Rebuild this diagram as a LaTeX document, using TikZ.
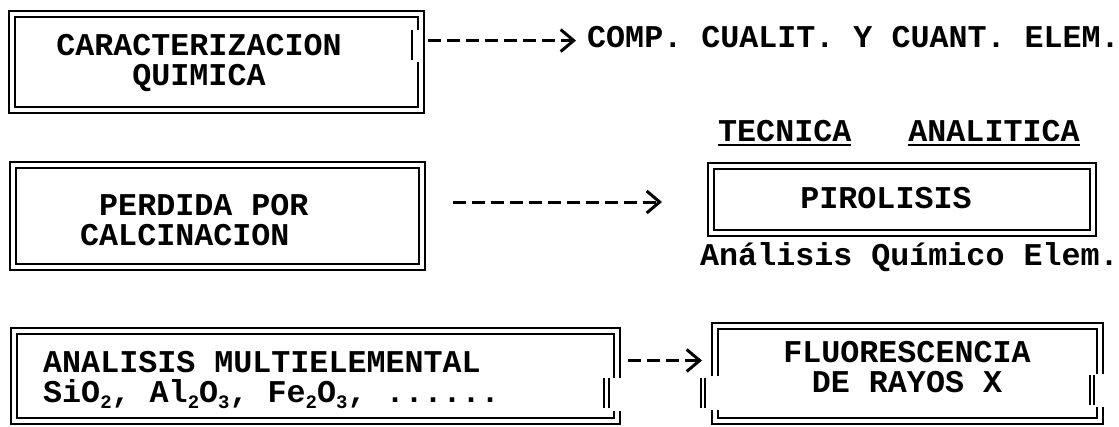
\documentclass[tikz,border=0pt]{standalone}
\usepackage{fontspec}
\setmonofont{Liberation Mono}
\usetikzlibrary{arrows.meta,positioning}

\newcommand{\subidx}[1]{\raisebox{-0.22em}{\fontsize{19}{19}\selectfont #1}}
\newcommand{\ulword}[1]{\setbox0\hbox{#1}\rlap{\rule[-5pt]{\wd0}{2pt}}\box0}

\begin{document}
\begin{tikzpicture}[x=1pt, y=-1pt,
  dbox/.style={rectangle, draw, double, line width=2pt, double distance=4pt,
               inner sep=0pt, outer sep=0pt},
  tw/.style={font=\ttfamily\bfseries\fontsize{31.7}{30}\selectfont, inner sep=0pt},
  darr/.style={-{Straight Barb[length=13pt,width=22pt]}, line width=3pt,
               dash pattern=on 13pt off 6pt},
  tbar/.style={line width=2pt}
]
\useasboundingbox (0,0) rectangle (1119,426);

% Boxes
\node[dbox, minimum width=409, minimum height=96]  (car) at (216.5,62)  {};
\node[dbox, minimum width=409, minimum height=102] (per) at (217.5,216) {};
\node[dbox, minimum width=382, minimum height=67]  (pir) at (902,199.5) {};
\node[dbox, minimum width=603, minimum height=90]  (ana) at (315,375.5) {};
\node[dbox, minimum width=385, minimum height=95]  (flu) at (907,373)   {};

% typewriter breaks in the frames
\fill[white] (415.5,30) rectangle (419.5,62);
\draw[tbar] (412,30) -- (412,60);
\fill[white] (611,378) rectangle (622,411);
\draw[tbar] (603.5,378) -- (603.5,408) (608.5,378) -- (608.5,408);
\fill[white] (709,376) rectangle (720,410);
\draw[tbar] (700.5,378) -- (700.5,408) (705,378) -- (705,408);
\fill[white] (1094,374) rectangle (1104,407);
\draw[tbar] (1089.5,375) -- (1089.5,405) (1094,375) -- (1094,405);

% Texts
\node[tw, anchor=base, align=center] (cartxt) at (199,85) {CARACTERIZACION\\QUIMICA};
\node[tw, anchor=base west] (comp) at (587,47) {COMP. CUALIT. Y CUANT. ELEM.};
\node[tw, anchor=base west] (tec) at (718,141) {\ulword{TECNICA}~~~\ulword{ANALITICA}};
\node[tw, anchor=base west, align=left] (pertxt) at (80,245) {~PERDIDA POR\\CALCINACION};
\node[tw, anchor=base] (pirtxt) at (886,208) {PIROLISIS};
\node[tw, anchor=base west] (quim) at (700,265) {Análisis Químico Elem.};
\node[tw, anchor=base west, align=left] (anatxt) at (43,402)
  {ANALISIS MULTIELEMENTAL\\SiO\subidx{2}, Al\subidx{2}O\subidx{3}, Fe\subidx{2}O\subidx{3}, ......};
\node[tw, anchor=base, align=center] (flutxt) at (907,392) {FLUORESCENCIA\\DE RAYOS X};

% Arrows
\draw[darr, shorten <=7pt, shorten >=11pt] ([yshift=-4pt]car.east |- comp.west) -- ([yshift=-4pt]comp.west);
\draw[darr, shorten <=31pt, shorten >=49pt] ([yshift=-2.5pt]per.east |- pir.west) -- ([yshift=-2.5pt]pir.west);
\draw[darr, shorten <=11.5pt, shorten >=12.5pt] ([yshift=15pt]ana.east) -- ([yshift=15pt]ana.east -| flu.west);
\end{tikzpicture}
\end{document}
